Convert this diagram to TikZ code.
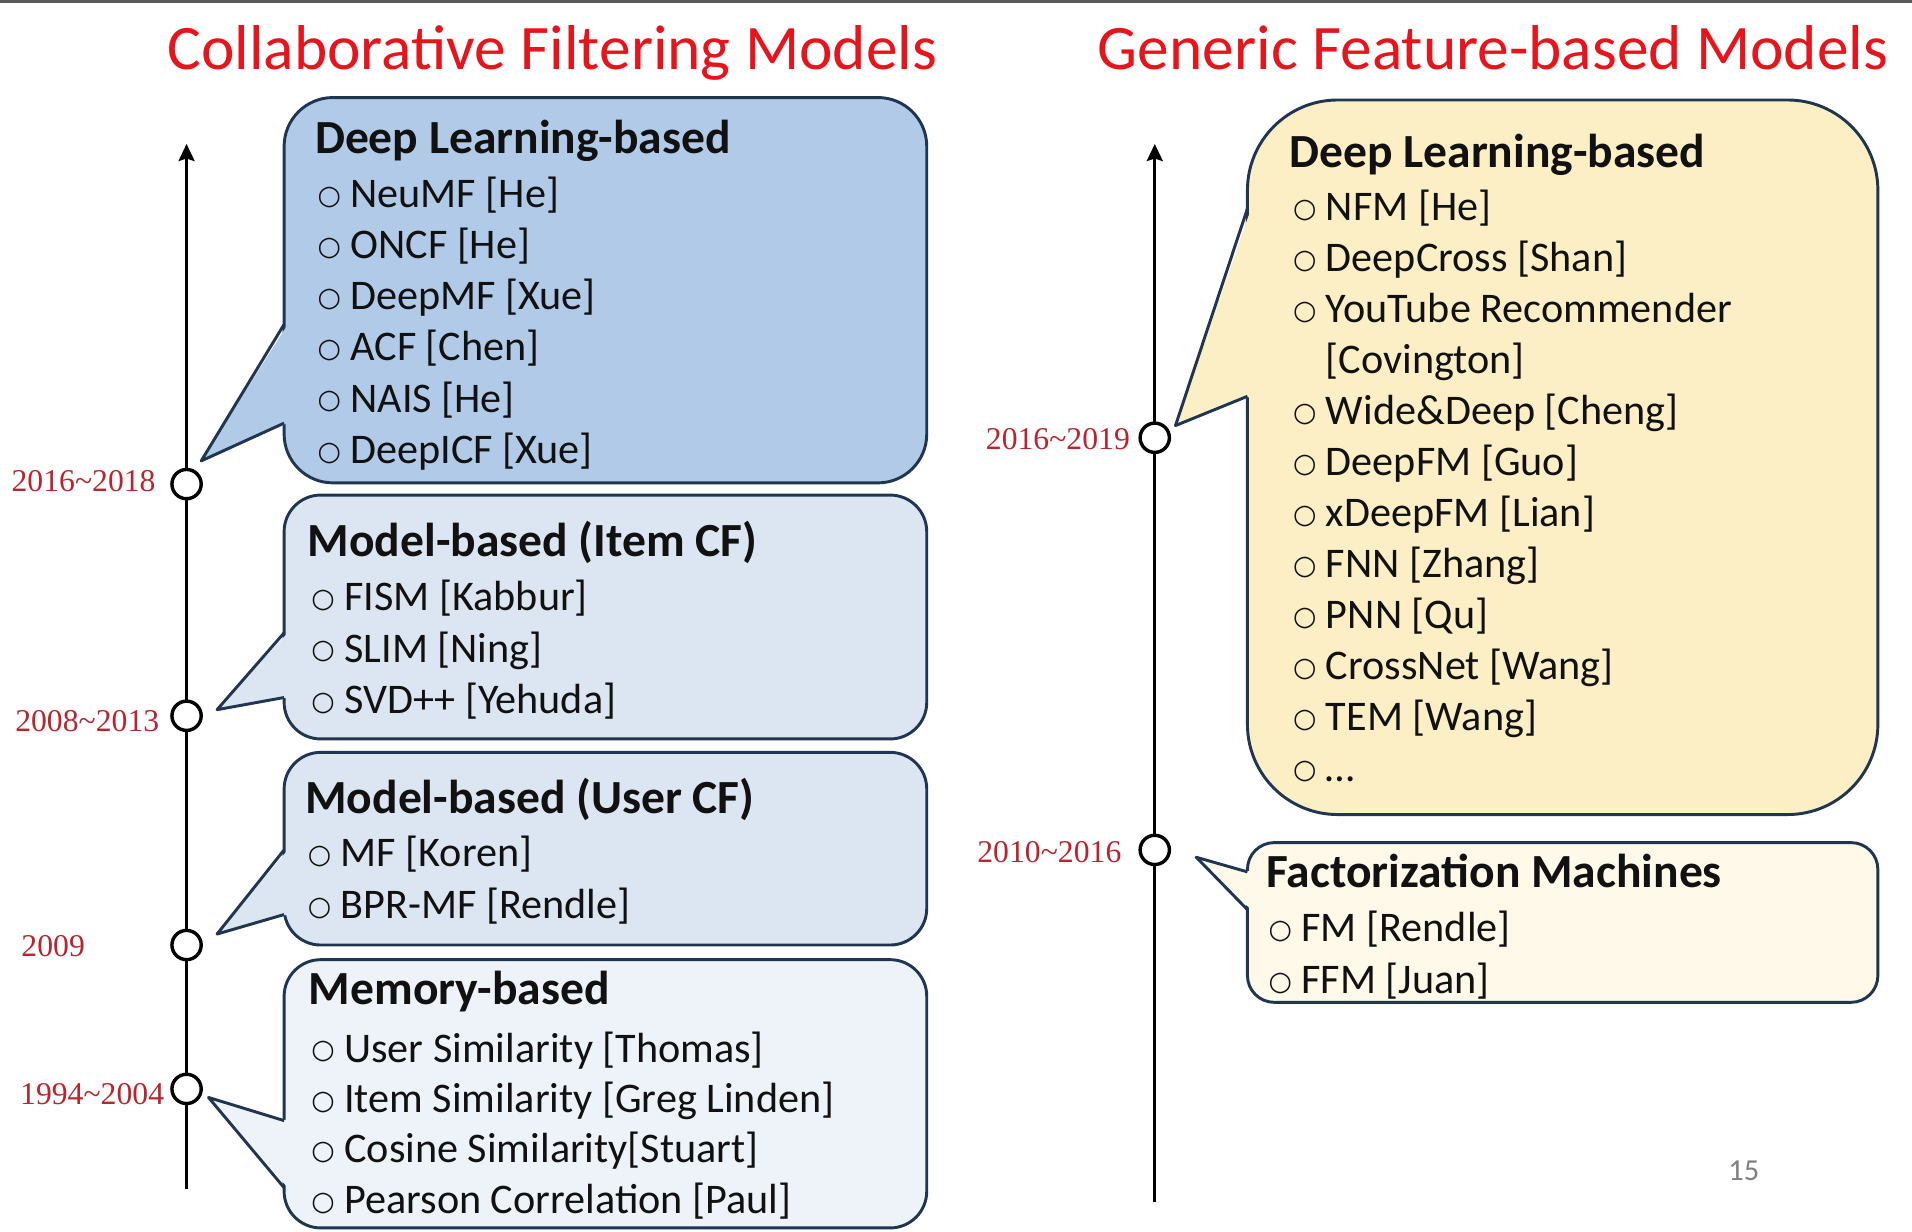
\documentclass[tikz,border=0pt]{standalone}
\usepackage{fontspec}
\setmainfont{Carlito}
\newfontfamily\datefont{Liberation Serif}
\newfontfamily\symfont{DejaVu Sans}
\usetikzlibrary{positioning,shapes,arrows,arrows.meta}

\definecolor{titlered}{HTML}{E8141C}
\definecolor{datered}{HTML}{B8252E}
\definecolor{edgeblue}{HTML}{1F3550}
\definecolor{dlblue}{HTML}{B0CAE8}
\definecolor{cfblue}{HTML}{DCE6F2}
\definecolor{memblue}{HTML}{EEF3F9}
\definecolor{dlcream}{HTML}{FDEFC5}
\definecolor{fmcream}{HTML}{FEF9E9}
\definecolor{txt}{HTML}{111111}

\newcommand\bul{\makebox[13.5pt][l]{\raisebox{1.3pt}{\fontsize{11}{11}\symfont ○}}}

\begin{document}
\begin{tikzpicture}
    [x=0.5pt, y=-0.5pt,
     every node/.style={inner sep=0pt},
     ttl/.style={anchor=base west, font=\fontsize{26}{30}\selectfont, text=titlered},
     hd/.style={anchor=base west, font=\fontsize{19.5}{23}\selectfont\bfseries, text=txt},
     itm/.style={anchor=base west, font=\fontsize{17.3}{21}\selectfont, text=txt},
     yr/.style={anchor=base east, font=\fontsize{13}{15}\datefont, text=datered},
     cbox/.style={draw=edgeblue, line width=1.2pt, rounded corners=#1},
     yrdot/.style={circle, draw=black, line width=1.4pt, fill=white, minimum size=12pt},
     timeline/.style={line width=1.3pt, -{Stealth[length=7pt, width=6.5pt, inset=1pt]}}]
  \useasboundingbox (0,0) rectangle (1568,1010);
  \fill[gray!70!black] (0,0) rectangle (1568,2.5);

  % titles
  \node[ttl] (cftitle) at (137,57) {Collaborative Filtering Models};
  \node[ttl] (gftitle) at (900,57) {Generic Feature-based Models};

  % boxes
  \node[cbox=20pt, fill=dlblue, minimum width=263.5pt, minimum height=158pt] (dl) at (496.5,238) {};
  \node[cbox=15pt, fill=cfblue, minimum width=263.5pt, minimum height=100pt] (itemcf) at (496.5,506) {};
  \node[cbox=15pt, fill=cfblue, minimum width=263.5pt, minimum height=79pt] (usercf) at (496.5,696) {};
  \node[cbox=15pt, fill=memblue, minimum width=263.5pt, minimum height=110pt] (memory) at (496.5,897) {};
  \node[cbox=37pt, fill=dlcream, minimum width=258.5pt, minimum height=293pt] (gdl) at (1281.5,375) {};
  \node[cbox=11pt, fill=fmcream, minimum width=258.5pt, minimum height=65.5pt] (fm) at (1281.5,756.5) {};

  % callout pointers
  \foreach \lx/\col/\pt/\pb/\tx/\ty in {233/dlblue/266/347/165/378, 233/cfblue/519/572/178/582,
      233/cfblue/697/750/178/766, 233/memblue/919/974/171/900,
      1023/dlcream/171/325/964/349, 1023/fmcream/715/746/981/703}
  {
    \fill[\col] (\tx,\ty) -- (\lx+3,\pt) -- (\lx+3,\pb) -- cycle;
    \draw[edgeblue, line width=1.2pt, line join=round] (\lx,\pt) -- (\tx,\ty) -- (\lx,\pb);
  }

  % time lines
  \coordinate (lbot) at (153,975);
  \coordinate (ltop) at (153,118);
  \coordinate (rbot) at (947,986);
  \coordinate (rtop) at (947,118);
  \draw[timeline] (lbot) -- (ltop);
  \draw[timeline] (rbot) -- (rtop);

  \foreach \n/\x/\y/\lx/\ly/\yrtext in {t1/153/397/128/403/2016\textasciitilde2018,
      t2/153/587/131/600/2008\textasciitilde2013, t3/153/775/70/784/2009,
      t4/153/893/135/906/1994\textasciitilde2004, g1/947/359/927/369/2016\textasciitilde2019,
      g2/947/697/920/707/2010\textasciitilde2016}
  {
    \node[yrdot] (\n) at (\x,\y) {};
    \node[yr] (\n-yr) at (\lx,\ly) {\yrtext};
  }

  % collaborative filtering
  \node[hd] (dl-h) at (258,126) {Deep Learning-based};
  \foreach \e [count=\i from 0] in {NeuMF [He], ONCF [He], DeepMF [Xue], ACF [Chen], NAIS [He], DeepICF [Xue]}
    \node[itm] (dl-\i) at (260,170+42*\i) {\bul\e};

  \node[hd] (itemcf-h) at (252,456) {Model-based (Item CF)};
  \foreach \e [count=\i from 0] in {FISM [Kabbur], SLIM [Ning], SVD++ [Yehuda]}
    \node[itm] (itemcf-\i) at (255,501+42*\i) {\bul\e};

  \node[hd] (usercf-h) at (250,667) {Model-based (User CF)};
  \foreach \e [count=\i from 0] in {MF [Koren], BPR-MF [Rendle]}
    \node[itm] (usercf-\i) at (252,711+42*\i) {\bul\e};

  \node[hd] (memory-h) at (253,824) {Memory-based};
  \foreach \e [count=\i from 0] in {User Similarity [Thomas], Item Similarity [Greg Linden],
      Cosine Similarity[Stuart], Pearson Correlation [Paul]}
    \node[itm] (memory-\i) at (255,871+41.3*\i) {\bul\e};

  % generic feature-based
  \node[hd] (gdl-h) at (1057,137) {Deep Learning-based};
  \foreach \i/\e in {0/NFM [He], 1/DeepCross [Shan], 2/YouTube Recommender, 4/Wide\&Deep [Cheng],
      5/DeepFM [Guo], 6/xDeepFM [Lian], 7/FNN [Zhang], 8/PNN [Qu], 9/CrossNet [Wang],
      10/TEM [Wang], 11/\ldots}
    \node[itm] (gdl-\i) at (1060,181+41.8*\i) {\bul\e};
  \node[itm] (gdl-3) at (1087,181+41.8*3) {[Covington]};

  \node[hd] (fm-h) at (1038,728) {Factorization Machines};
  \node[itm] (fm-0) at (1040,772) {\bul FM [Rendle]};
  \node[itm] (fm-1) at (1040,815) {\bul FFM [Juan]};

  \node[font=\fontsize{12.5}{14}\selectfont, text=gray] (pagenum) at (1430,960) {15};
\end{tikzpicture}
\end{document}
